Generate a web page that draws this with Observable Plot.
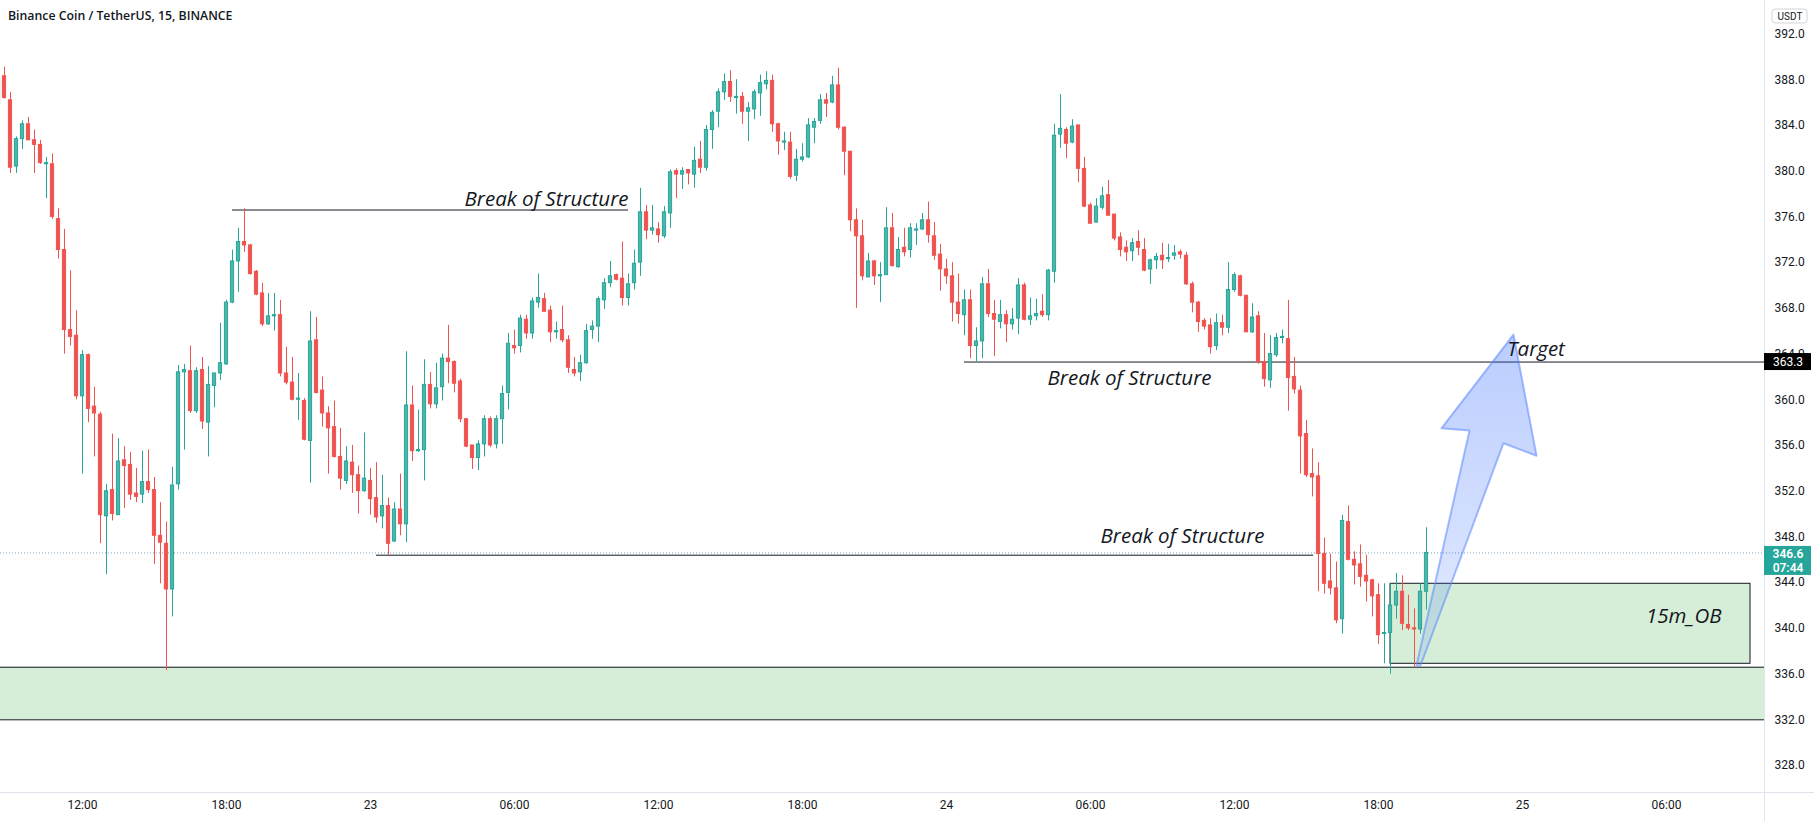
<!DOCTYPE html>
<html>
<head>
<meta charset="utf-8">
<script src="https://cdn.jsdelivr.net/npm/d3@7"></script>
<script src="https://cdn.jsdelivr.net/npm/@observablehq/plot@0.6"></script>
<style>
  body { margin: 0; background: #ffffff; }
  #wrap { position: relative; width: 1814px; height: 821px; overflow: hidden; }
  #title { position: absolute; left: 8px; top: 7px; font: 600 12.3px "Open Sans", sans-serif; color: #131722; white-space: nowrap; }
</style>
</head>
<body>
<div id="wrap"><div id="title">Binance Coin / TetherUS, 15, BINANCE</div></div>
<script>
// ---- data: 15-minute candles, first bar at 2021-09-22 08:30 UTC ----
const candleStart = "2021-09-22T08:30:00Z";
const opens = [385.9,388.3,386.2,380.4,382.8,384.1,382.7,382.3,380.6,380.6,375.8,373.1,366.1,365.6,
360.3,363.9,359.4,358.7,349.8,352.1,349.9,354.7,354.3,351.8,351.7,352.8,352.1,348.1,347.4,343.4,352.6,362.4,362.5,359.0,362.6,358.0,361.2,362.3,363.1,368.5,372.1,373.8,373.5,371.2,369.3,366.6,367.3,367.4,362.3,361.5,360.0,359.9,356.4,365.2,360.8,358.8,357.6,355.0,352.9,354.5,353.4,352.0,352.9,351.4,349.8,350.7,347.6,350.4,349.1,359.5,355.5,355.6,361.3,359.6,361.1,363.6,
363.3,361.6,358.3,356.0,354.9,356.1,358.3,356.1,358.3,360.6,364.7,364.7,367.0,365.8,368.5,368.8,367.8,365.9,366.1,365.2,362.6,362.4,363.2,366.1,366.4,368.7,370.2,370.9,370.6,368.9,370.2,
372.0,376.4,374.8,374.9,374.3,376.3,380.0,379.7,380.1,379.7,381.0,380.3,383.6,385.2,386.9,387.8,386.4,386.5,385.2,385.4,386.8,387.6,387.9,384.1,382.5,382.5,379.6,381.0,381.2,383.8,384.4,386.2,
386.0,387.5,383.8,381.7,375.7,374.3,370.7,372.1,370.8,370.9,375.0,371.6,373.3,373.1,374.8,374.9,375.7,374.3,372.7,371.4,370.8,368.5,367.4,368.7,364.7,365.1,370.1,367.5,366.8,367.4,366.6,367.1,
370.0,367.0,367.3,367.7,367.4,371.2,383.2,383.6,382.5,384.0,380.2,377.0,375.5,376.8,377.9,376.2,374.2,373.3,373.0,373.8,373.1,371.4,372.2,372.6,372.3,372.6,372.9,372.6,370.1,368.5,366.9,366.5,364.7,
366.7,366.3,369.6,370.8,369.1,365.9,367.3,363.3,361.7,363.9,365.4,365.3,362.0,360.8,357.0,353.5,353.3,346.5,344.1,343.5,340.8,349.3,346.0,345.6,344.6,344.2,342.9,339.5,339.6,342.0,343.2,340.3,340.0,339.9,343.2];
const highs = [388.9,389.1,386.9,383.0,384.4,384.7,383.6,382.7,381.2,381.5,376.7,374.9,371.3,367.8,
364.3,364.0,361.1,358.9,352.6,357.0,356.6,355.9,355.4,354.0,355.5,355.6,353.2,351.0,349.3,354.1,363.0,363.1,364.7,362.8,363.7,362.9,362.3,366.7,368.7,373.1,375.0,376.7,373.6,371.3,370.2,369.3,369.3,368.7,364.6,363.7,362.3,360.1,367.7,367.2,362.0,359.4,359.9,357.5,355.9,356.0,354.2,357.1,354.0,354.5,353.4,351.4,351.0,353.5,364.2,361.2,359.1,363.5,362.4,363.2,364.0,366.5,
363.4,361.8,358.3,356.0,356.4,358.6,358.5,358.6,361.2,365.8,366.1,367.4,367.4,368.9,371.0,369.3,368.2,366.8,368.2,365.6,363.7,363.9,366.6,366.9,369.0,370.6,372.1,371.0,373.8,371.0,373.1,
378.5,377.0,377.0,375.5,376.9,380.1,380.2,380.3,380.1,382.1,382.6,384.0,385.3,387.2,388.5,388.8,388.0,386.9,386.0,387.1,388.4,388.7,388.4,384.2,383.4,383.4,381.9,382.4,384.6,384.6,386.7,386.8,
388.3,389.0,383.9,381.7,376.7,375.7,372.8,372.2,372.0,376.8,376.3,374.2,375.0,375.4,375.4,376.3,377.3,375.5,373.6,372.3,372.0,371.0,369.6,369.6,366.3,370.7,371.4,368.7,368.7,367.8,368.0,370.6,
370.2,368.9,368.8,369.2,371.4,384.1,386.7,383.8,384.5,384.0,381.2,377.2,377.6,378.6,379.2,376.2,374.6,373.9,374.1,374.8,374.1,372.3,372.8,373.7,373.6,373.5,373.1,372.9,370.3,368.6,367.1,367.1,367.5,
367.4,372.0,371.1,370.9,369.1,368.4,367.7,365.8,365.6,365.8,366.1,368.7,363.7,361.2,358.2,355.7,354.5,347.9,346.5,345.8,349.9,350.7,346.7,347.3,346.4,344.3,343.9,343.9,343.9,344.8,344.6,342.9,341.7,343.9,348.8];
const lows = [385.7,386.3,379.8,379.8,381.9,382.7,379.8,380.6,377.6,375.8,372.3,364.0,364.7,360.0,
353.5,358.0,355.0,347.4,344.7,349.4,349.9,350.5,351.2,351.0,350.9,351.8,345.6,343.9,336.3,341.0,352.1,355.6,358.8,358.8,357.4,355.0,359.3,361.7,363.0,368.4,369.4,372.9,370.9,369.1,366.4,366.5,366.0,362.0,361.3,359.9,358.2,356.4,352.7,360.5,357.6,353.5,354.9,352.1,352.6,351.8,350.0,351.9,349.9,349.2,348.7,346.4,347.5,348.1,347.5,354.6,355.4,352.9,359.2,359.2,359.9,361.4,
360.6,358.0,355.8,353.9,353.8,355.0,355.8,355.7,356.1,359.1,364.0,364.1,365.3,365.3,368.0,367.7,365.0,365.3,365.0,362.3,362.0,361.6,363.1,365.3,365.0,367.9,369.8,370.4,368.2,368.2,369.6,
370.8,374.0,374.4,373.7,374.1,375.0,377.6,378.4,378.8,378.5,379.8,380.0,381.9,383.8,386.2,386.0,385.0,384.1,382.6,384.5,384.8,387.1,383.4,381.4,381.8,379.3,379.1,380.8,381.1,382.4,384.1,384.7,
385.9,383.6,379.6,374.7,368.0,370.4,370.7,370.0,368.5,370.9,371.6,371.5,372.5,372.4,373.5,374.8,373.7,372.2,369.5,370.1,366.8,366.6,365.6,363.6,363.3,363.6,367.2,363.8,366.2,365.0,366.1,365.7,
366.9,366.5,366.9,367.2,366.9,370.2,382.0,381.1,382.4,379.0,376.8,375.4,375.5,376.6,376.1,373.9,372.5,372.1,372.1,372.6,371.2,370.1,371.4,371.4,372.0,372.2,372.3,370.0,367.6,365.9,366.1,364.0,364.3,
365.6,365.8,369.4,369.0,365.9,365.8,363.1,361.1,361.0,363.7,364.9,359.0,360.5,353.5,353.2,351.5,343.2,343.0,342.9,340.4,339.5,345.9,343.8,343.6,342.3,341.0,338.6,336.9,336.0,340.8,339.8,339.8,336.6,339.5,341.6];
const closes = [388.2,386.4,380.3,382.8,384.1,382.7,382.3,380.7,380.7,376.0,373.1,366.1,365.5,360.3,
363.9,359.2,358.8,349.9,352.0,350.0,354.6,354.2,351.7,351.5,352.8,352.1,348.1,347.5,343.4,352.5,362.4,362.6,359.0,362.5,358.1,361.3,362.3,363.2,368.5,372.1,373.8,373.5,371.0,369.2,366.6,367.3,367.4,362.3,361.5,360.0,360.1,356.5,365.1,360.6,358.8,357.5,355.0,353.1,354.6,353.4,352.0,353.1,351.3,349.7,350.7,347.4,350.4,349.1,359.5,355.5,355.6,361.3,359.6,361.0,363.6,363.3,
361.4,358.3,355.9,354.9,356.1,358.3,356.0,358.3,360.5,364.9,364.5,367.1,365.8,368.6,368.9,367.7,365.9,366.0,365.2,362.8,362.3,363.2,366.0,366.4,368.8,370.2,370.8,370.5,368.9,370.1,371.9,
376.4,374.8,375.0,374.4,376.4,379.9,379.7,380.0,379.8,380.9,380.3,383.6,385.1,386.9,387.8,386.5,386.5,385.2,385.5,386.9,387.7,387.9,384.1,382.6,382.6,379.5,381.0,381.2,384.0,384.3,386.2,385.9,
387.5,383.8,381.7,375.7,374.3,370.8,372.1,370.8,370.9,375.0,371.7,373.1,372.9,375.0,374.9,375.7,374.4,372.6,371.4,370.8,368.5,367.5,368.7,364.7,365.1,370.1,367.5,367.0,367.4,366.6,367.0,370.0,
367.0,367.3,367.5,367.4,371.3,383.1,383.7,382.4,383.9,380.2,376.9,375.4,376.9,377.8,376.1,374.1,373.1,372.9,373.7,373.3,371.3,372.2,372.5,372.2,372.4,372.8,372.7,370.1,368.5,366.8,366.4,364.6,366.7,
366.3,369.6,370.9,369.1,365.9,367.2,363.3,361.8,364.0,365.4,365.5,361.9,360.9,356.8,353.4,353.2,346.5,343.9,343.5,340.7,349.4,346.0,345.5,344.5,344.1,342.8,339.4,339.6,342.0,343.2,340.4,340.0,339.9,343.2,346.6];

// axes
const xTickTimes = ["2021-09-22T12:00Z","2021-09-22T18:00Z","2021-09-23T00:00Z","2021-09-23T06:00Z","2021-09-23T12:00Z","2021-09-23T18:00Z",
  "2021-09-24T00:00Z","2021-09-24T06:00Z","2021-09-24T12:00Z","2021-09-24T18:00Z","2021-09-25T00:00Z","2021-09-25T06:00Z"];
const xTickLabels = ["12:00","18:00","23","06:00","12:00","18:00","24","06:00","12:00","18:00","25","06:00"];
const yTicks = [328,332,336,340,344,348,352,356,360,364,368,372,376,380,384,388,392];
const xDomain = ["2021-09-22T08:35Z","2021-09-25T10:05Z"];
const yDomain = [325.64, 394.93];

// drawings
const zoneLow = 332.0, zoneHigh = 336.6;
const obFrom = "2021-09-24T18:30Z", obTo = "2021-09-25T09:30Z", obLow = 336.9, obHigh = 343.9;
const levelFrom = ["2021-09-22T18:15Z","2021-09-24T00:45Z","2021-09-23T00:15Z"];
const levelTo = ["2021-09-23T10:45Z","2021-09-25T10:05Z","2021-09-24T15:18Z"];
const levelPrice = [376.6, 363.3, 346.4];
const noteText = ["Break of Structure","Break of Structure","Break of Structure","Target","15m_OB"];
const noteTime = ["2021-09-23T07:20Z","2021-09-24T07:37:30Z","2021-09-24T09:50Z","2021-09-25T00:34Z","2021-09-25T06:43Z"];
const notePrice = [377.5, 361.9, 348.0, 364.4, 341.0];
const arrowTime = ["2021-09-24T19:35Z","2021-09-24T21:47:30Z","2021-09-24T20:37:30Z","2021-09-24T23:37:30Z","2021-09-25T00:35Z","2021-09-24T23:12:30Z","2021-09-24T19:45Z","2021-09-24T19:35Z"];
const arrowPrice = [336.75, 357.3, 357.5, 365.7, 355.1, 356.2, 336.75, 336.75];
const lastPrice = 346.6, countdown = "07:44", targetPrice = 363.3, currency = "USDT";

// ---- build tables ----
const t0 = Date.parse(candleStart);
const candles = opens.map((o, i) => ({
  date: new Date(t0 + i * 15 * 60000), open: o, high: highs[i], low: lows[i], close: closes[i]
}));
const up = d => d.close >= d.open;
const xStart = new Date(xDomain[0]), xEnd = new Date(xDomain[1]);
const levels = levelPrice.map((p, i) => ({price: p, from: new Date(levelFrom[i]), to: new Date(levelTo[i])}));
const notes = noteText.map((t, i) => ({text: t, date: new Date(noteTime[i]), price: notePrice[i]}));
const arrow = arrowTime.map((t, i) => ({date: new Date(t), price: arrowPrice[i]}));
const tickDates = xTickTimes.map(s => new Date(s));
const tickLabel = new Map(tickDates.map((d, i) => [+d, xTickLabels[i]]));
const GREEN = "#26a69a", GREEN_FILL = "#4db6a9", RED = "#ef5350", INK = "#131722", ZONE = "#d6eed8", AXISLINE = "#e0e3eb";
const half = 4 * 60000;

const chart = Plot.plot({
  width: 1814, height: 821,
  marginLeft: 0, marginRight: 50, marginTop: 0, marginBottom: 29,
  x: {type: "utc", domain: [xStart, xEnd], axis: null},
  y: {domain: yDomain, axis: null},
  style: {fontFamily: "Roboto, sans-serif", fontSize: "12px", color: INK, background: "#ffffff", overflow: "hidden"},
  marks: [
    // demand zone
    Plot.rect([0], {x1: () => xStart, x2: () => xEnd, y1: () => zoneLow, y2: () => zoneHigh, fill: ZONE}),
    Plot.ruleY([zoneLow, zoneHigh], {x1: () => xStart, x2: () => xEnd, stroke: INK, strokeWidth: 1}),
    // 15m order block
    Plot.rect([0], {x1: () => new Date(obFrom), x2: () => new Date(obTo), y1: () => obLow, y2: () => obHigh, fill: ZONE, stroke: INK, strokeWidth: 1}),
    // structure levels
    Plot.ruleY(levels, {y: "price", x1: "from", x2: "to", stroke: INK, strokeWidth: 1}),
    // last price dotted line
    Plot.ruleY([lastPrice], {stroke: "#7f9fb3", strokeWidth: 1, strokeDasharray: "1,2"}),
    // candles
    Plot.ruleX(candles, {x: "date", y1: "low", y2: "high", stroke: d => up(d) ? GREEN : RED, strokeWidth: 1}),
    Plot.rect(candles, {
      x1: d => new Date(+d.date - half), x2: d => new Date(+d.date + half),
      y1: "open", y2: "close",
      fill: d => up(d) ? GREEN_FILL : RED, stroke: d => up(d) ? GREEN : RED, strokeWidth: 1
    }),
    // projection arrow
    Plot.line(arrow, {x: "date", y: "price", fill: "url(#arrowGrad)", stroke: "#5b86ff", strokeOpacity: 0.55, strokeWidth: 2, curve: "linear"}),
    // annotations
    Plot.text(notes, {x: "date", y: "price", text: "text", textAnchor: "middle", fontSize: 20.5, fontStyle: "italic", fontFamily: "Open Sans, sans-serif", fill: INK}),
    // axes
    Plot.axisX(tickDates, {tickSize: 0, tickPadding: 8, tickFormat: d => tickLabel.get(+d), fontSize: 12, fill: INK}),
    Plot.axisY(yTicks, {anchor: "right", tickSize: 0, tickPadding: 10, textAnchor: "start", tickFormat: d => d.toFixed(1), fontSize: 12, fill: INK}),
    Plot.ruleX([xEnd], {stroke: AXISLINE, insetBottom: -29}),
    Plot.ruleY([yDomain[0]], {stroke: AXISLINE, insetRight: -50}),
    // right-axis price labels
    Plot.rect([0], {x1: () => xEnd, x2: () => xEnd, y1: () => yDomain[1], y2: () => yDomain[1], insetLeft: 8, insetRight: -43, insetTop: 9, insetBottom: -23, fill: "white", stroke: "#d1d4dc", rx: 3}),
    Plot.text([currency], {x: () => xEnd, y: () => yDomain[1], dx: 25.5, dy: 16, text: d => d, fontSize: 10, fill: INK}),
    Plot.rect([targetPrice], {x1: () => xEnd, x2: () => xEnd, y1: d => d, y2: d => d, insetLeft: 0, insetRight: -47, insetTop: -8.5, insetBottom: -8.5, fill: "#000000"}),
    Plot.text([targetPrice], {x: () => xEnd, y: d => d, dx: 23.5, text: d => d.toFixed(1), fontSize: 12, fill: "white"}),
    Plot.rect([lastPrice], {x1: () => xEnd, x2: () => xEnd, y1: d => d, y2: d => d, insetLeft: 0, insetRight: -47, insetTop: -6.5, insetBottom: -22.5, fill: GREEN}),
    Plot.text([lastPrice], {x: () => xEnd, y: d => d, dx: 23.5, dy: 1, text: d => d.toFixed(1), fontSize: 12, fontWeight: 600, fill: "white"}),
    Plot.text([countdown], {x: () => xEnd, y: () => lastPrice, dx: 23.5, dy: 15, text: d => d, fontSize: 12, fontWeight: 600, fill: "white"})
  ]
});
// gradient used by the arrow fill
const defs = d3.select(chart).insert("defs", ":first-child");
const grad = defs.append("linearGradient").attr("id", "arrowGrad").attr("x1", 0).attr("y1", 1).attr("x2", 0).attr("y2", 0);
grad.append("stop").attr("offset", "0%").attr("stop-color", "#2962ff").attr("stop-opacity", 0.12);
grad.append("stop").attr("offset", "100%").attr("stop-color", "#2962ff").attr("stop-opacity", 0.32);
document.getElementById("wrap").prepend(chart);
</script>
</body>
</html>
